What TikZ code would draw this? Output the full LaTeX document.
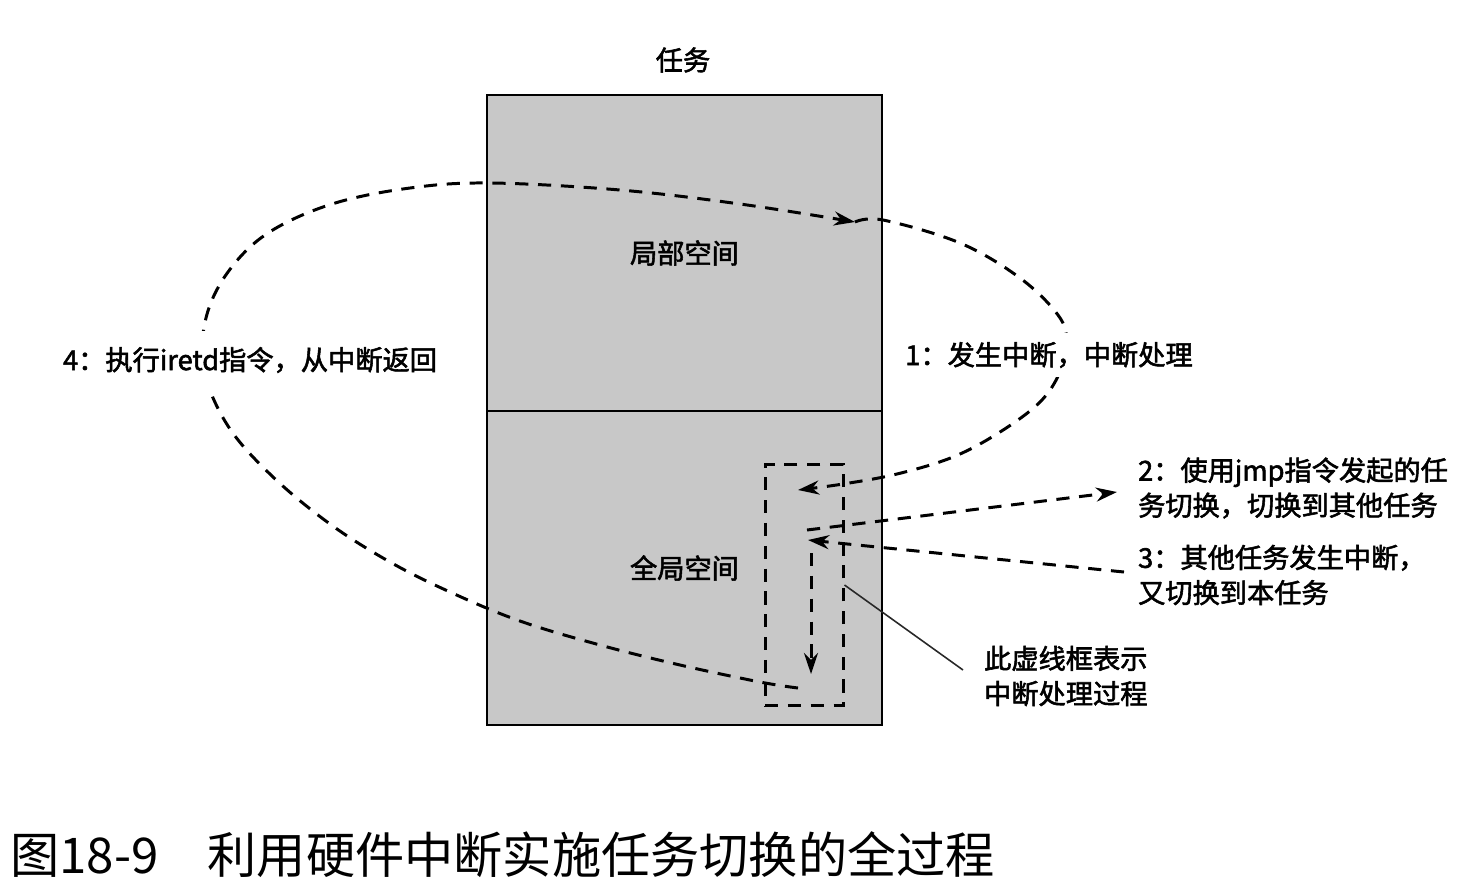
\documentclass[tikz,border=0pt]{standalone}
\usepackage{fontspec}
\newfontfamily\cjk{Noto Sans CJK SC}
\newfontfamily\cjkbold[FakeBold=2]{Noto Sans CJK SC}
\usetikzlibrary{arrows.meta, positioning}
\definecolor{spacegray}{RGB}{200,200,200}
\definecolor{inkgray}{RGB}{40,40,40}

\tikzset{
  space/.style={draw, line width=1.4pt, fill=spacegray, minimum width=7.9cm, inner sep=0pt,
    font=\cjkbold\fontsize{15.5pt}{20pt}\selectfont},
  dashline/.style={dash pattern=on 7.5pt off 5.5pt, line width=1.7pt},
  tip/.style={-{Stealth[length=12pt, width=8pt]}},
  txt/.style={font=\cjkbold\fontsize{15.5pt}{20pt}\selectfont, align=left, inner sep=1pt},
}

\begin{document}
\begin{tikzpicture}[x=0.02cm, y=-0.02cm]
    \useasboundingbox (0,0) rectangle (1479,893);

    % Tiêu đề "任务" phía trên khung
    \node[txt] (title) at (683,60) {任务};

    % Khung lớn: không gian cục bộ (trên) và toàn cục (dưới)
    \node[space, minimum height=6.32cm] (local) at (684.5,253) {局部空间};
    \node[space, minimum height=6.28cm] (global) at (684.5,568) {全局空间};

    % Khung nét đứt: quá trình xử lý ngắt
    \node[draw, dashline, minimum width=1.56cm, minimum height=4.84cm, inner sep=0pt] (isrbox) at (804,585) {};

    % Các điểm mốc của vòng lặp
    \coordinate (ret) at (798,688);
    \coordinate (top) at (855,222);
    \coordinate (hit) at (798,490);

    % Vòng trái: iretd, quay về không gian cục bộ
    \draw[dashline, tip] plot[smooth, tension=0.6] coordinates {(ret) (760,682) (680,665) (600,645) (520,621) (450,592) (390,562) (330,524) (272,476) (228,426) (204,370) (206,318) (228,272) (268,233) (332,204) (410,188) (490,183) (620,190) (740,204) (top)};
    % Vòng phải: xảy ra ngắt, vào khung xử lý
    \draw[dashline, tip] plot[smooth, tension=0.6] coordinates {(top) (883,220) (960,243) (1020,278) (1058,315) (1067,342) (1060,372) (1040,402) (1000,432) (953,457) (897,474) (843,484) (hit)};

    % Mũi tên 2: jmp sang nhiệm vụ khác
    \coordinate (jmpfrom) at (807,530);
    \coordinate (jmpto) at (1117,492);
    \draw[dashline, tip] (jmpfrom) -- (jmpto);

    % Mũi tên 3: quay lại nhiệm vụ này
    \coordinate (backfrom) at (1124,572);
    \coordinate (backto) at (808,540);
    \draw[dashline, tip] (backfrom) -- (backto);

    % Mũi tên đi xuống trong khung nét đứt
    \coordinate (downfrom) at (811,553);
    \coordinate (downto) at (811,674);
    \draw[dashline, tip] (downfrom) -- (downto);

    % Nhãn trên vòng lặp
    \node[txt, fill=white, inner ysep=0.32cm] (step4) at (250,360) {4：执行iretd指令，从中断返回};
    \node[txt, fill=white, inner ysep=0.18cm] (step1) at (1049,355) {1：发生中断，中断处理};

    % Nhãn bên phải
    \node[txt, anchor=west] (step2) at (1136,488) {2：使用jmp指令发起的任\\务切换，切换到其他任务};
    \node[txt, anchor=west] (step3) at (1136,575) {3：其他任务发生中断，\\又切换到本任务};
    \node[txt, anchor=west] (note) at (982,676) {此虚线框表示\\中断处理过程};
    \coordinate (notetip) at (963,670);
    \draw[line width=0.9pt, inkgray] (isrbox.east) -- (notetip);

    % Chú thích hình
    \node[anchor=west, inner sep=0pt, font=\cjk\fontsize{28pt}{32pt}\selectfont] (caption) at (10,855) {图18-9\quad 利用硬件中断实施任务切换的全过程};
\end{tikzpicture}
\end{document}
